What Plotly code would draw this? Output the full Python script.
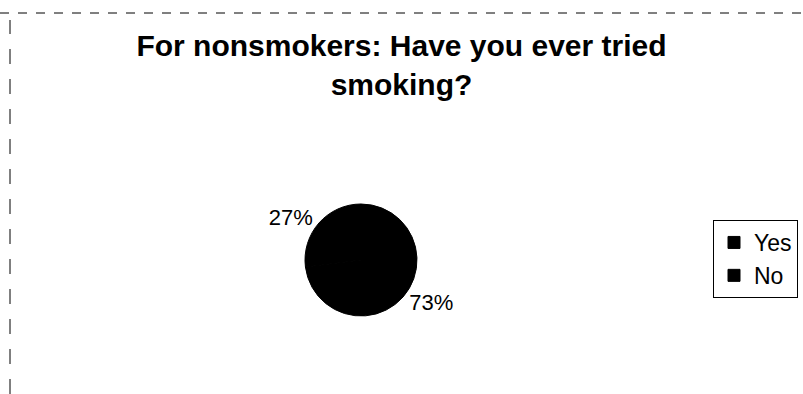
import plotly.graph_objects as go

# Survey answers for nonsmokers
answers = ["Yes", "No"]
shares = [27, 73]
slice_colors = ["#000000", "#000000"]

title_text = "For nonsmokers: Have you ever tried<br>smoking?"

W, H = 803, 394

# first slice ends at 12 o'clock, so it sits on the upper left
start_angle = -360 * shares[0] / sum(shares)

fig = go.Figure(
    go.Pie(
        labels=answers,
        values=shares,
        sort=False,
        direction="clockwise",
        rotation=start_angle,
        marker=dict(colors=slice_colors, line=dict(color="#000000", width=1)),
        textinfo="percent",
        texttemplate="%{percent:.0%}",
        textposition="outside",
        outsidetextfont=dict(family="Liberation Sans", size=22, color="#000000"),
        domain=dict(x=[305 / W, 417 / W], y=[(H - 316) / H, (H - 204) / H]),
        showlegend=True,
    )
)

fig.update_layout(
    width=W,
    height=H,
    margin=dict(l=0, r=0, t=0, b=0),
    paper_bgcolor="#ffffff",
    plot_bgcolor="#ffffff",
    title=dict(
        text=title_text,
        x=0.5,
        xanchor="center",
        y=1 - 56 / H,
        yanchor="top",
        font=dict(family="Liberation Sans", size=30, color="#000000", weight="bold"),
    ),
    legend=dict(
        x=713 / W,
        xanchor="left",
        y=1 - 220 / H,
        yanchor="top",
        bordercolor="#000000",
        borderwidth=1,
        bgcolor="#ffffff",
        font=dict(family="Liberation Sans", size=23, color="#000000"),
        itemwidth=30,
        tracegroupgap=0,
    ),
    shapes=[
        dict(type="line", xref="paper", yref="paper",
             x0=0.0, x1=1.0, y0=1 - 13 / H, y1=1 - 13 / H,
             line=dict(color="#000000", width=1, dash="dash")),
        dict(type="line", xref="paper", yref="paper",
             x0=10 / W, x1=10 / W, y0=0.0, y1=1 - 20 / H,
             line=dict(color="#000000", width=1, dash="longdash")),
    ],
)

fig.write_html("out.html")
